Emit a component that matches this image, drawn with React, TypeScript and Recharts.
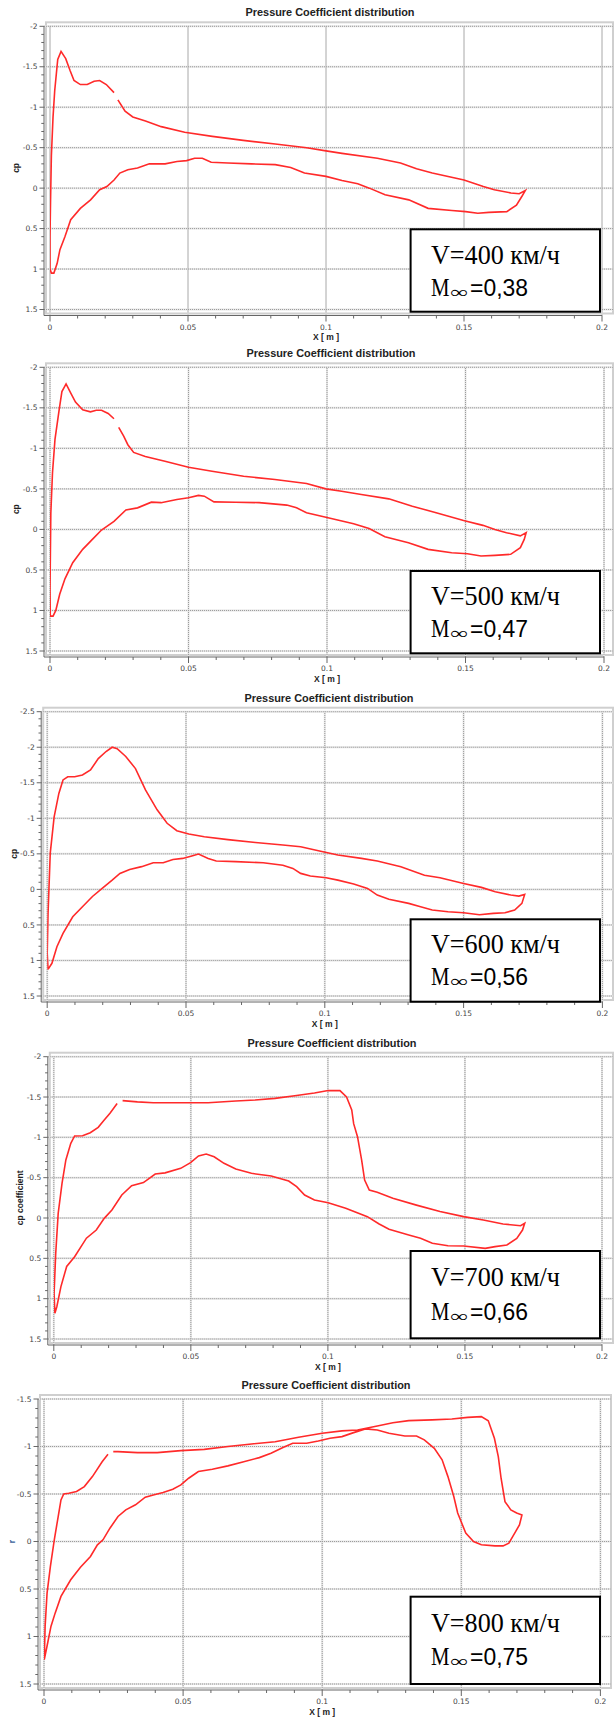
import React from "react";
import { LineChart, Line, XAxis, YAxis, ReferenceLine } from "recharts";

// [x (m), cp] along the contour
const v400: [number, number][] = [
  [0.0232, -1.18], [0.0204, -1.28], [0.018, -1.33], [0.016, -1.32], [0.0135, -1.28], [0.011, -1.28],
  [0.0087, -1.33], [0.0073, -1.45], [0.0057, -1.6], [0.004, -1.69], [0.0028, -1.59], [0.0017, -1.2],
  [0.0011, -0.88], [0.0005, -0.4], [0.0002, 0.15], [0, 0.6], [0, 1.0], [0.0005, 1.05],
  [0.0014, 1.05], [0.0026, 0.93], [0.0036, 0.76], [0.0054, 0.6], [0.0075, 0.39], [0.011, 0.25],
  [0.0147, 0.145], [0.018, 0.02], [0.0206, -0.02], [0.0232, -0.1], [0.0253, -0.186], [0.0282, -0.227],
  [0.0317, -0.248], [0.036, -0.3], [0.0417, -0.3], [0.046, -0.33], [0.0495, -0.34], [0.0524, -0.37],
  [0.0552, -0.37], [0.0584, -0.32], [0.0645, -0.31], [0.073, -0.3], [0.0816, -0.29], [0.0872, -0.256],
  [0.0922, -0.186], [0.1, -0.145], [0.1058, -0.095], [0.1115, -0.054], [0.1157, 0], [0.1214, 0.083],
  [0.13, 0.145], [0.137, 0.25], [0.1456, 0.277], [0.1506, 0.29], [0.155, 0.31], [0.159, 0.3],
  [0.1655, 0.29], [0.169, 0.21], [0.171, 0.1], [0.1722, 0.03],
  [0.17, 0.07], [0.167, 0.06], [0.161, 0.02], [0.157, -0.02], [0.15, -0.1], [0.1385, -0.186],
  [0.1328, -0.24], [0.127, -0.31], [0.1186, -0.37], [0.1058, -0.43], [0.1, -0.46], [0.093, -0.5],
  [0.0816, -0.545], [0.07, -0.59], [0.0588, -0.64], [0.0488, -0.69], [0.0403, -0.76], [0.0346, -0.83],
  [0.03, -0.88], [0.0272, -0.95], [0.0246, -1.09],
];

const v500: [number, number][] = [
  [0.0231, -1.365], [0.021, -1.43], [0.0186, -1.47], [0.0167, -1.47], [0.0146, -1.45], [0.0118, -1.475],
  [0.0092, -1.57], [0.0075, -1.68], [0.0058, -1.795], [0.0043, -1.7], [0.0033, -1.475], [0.0018, -1.11],
  [0.0009, -0.7], [0.0003, -0.2], [0, 0.74], [0.0001, 1.07],
  [0.0011, 1.07], [0.0021, 1.0], [0.0035, 0.8], [0.0054, 0.61], [0.0082, 0.41], [0.0118, 0.246],
  [0.0153, 0.123], [0.0186, 0.008], [0.0231, -0.1], [0.0274, -0.24], [0.0316, -0.266], [0.0366, -0.336],
  [0.0401, -0.33], [0.0458, -0.37], [0.05, -0.39], [0.0536, -0.42], [0.0557, -0.41], [0.0592, -0.34],
  [0.067, -0.336], [0.0755, -0.33], [0.0855, -0.3], [0.089, -0.266], [0.0926, -0.205], [0.0996, -0.15],
  [0.1096, -0.07], [0.1152, -0.01], [0.1209, 0.09], [0.1294, 0.164], [0.1365, 0.246], [0.145, 0.287],
  [0.1507, 0.3], [0.1556, 0.328], [0.1606, 0.32], [0.1663, 0.307], [0.1698, 0.225], [0.1712, 0.123],
  [0.1719, 0.04],
  [0.1698, 0.08], [0.1648, 0.04], [0.1606, 0], [0.1563, -0.05], [0.1493, -0.11], [0.1394, -0.205],
  [0.1308, -0.287], [0.1223, -0.377], [0.1124, -0.43], [0.1053, -0.47], [0.0996, -0.5], [0.0926, -0.566],
  [0.0812, -0.615], [0.0699, -0.656], [0.0585, -0.717], [0.05, -0.766], [0.0415, -0.84], [0.0344, -0.9],
  [0.0302, -0.95], [0.0281, -1.045], [0.0266, -1.15], [0.0248, -1.26],
];

const v600: [number, number][] = [
  [0.0003, 1.125], [0, 0.9], [0.0003, 0.34], [0.0011, -0.51], [0.0025, -1.02], [0.0042, -1.35],
  [0.0057, -1.54], [0.0074, -1.585], [0.0099, -1.585], [0.0127, -1.61], [0.0156, -1.68], [0.0184, -1.84],
  [0.0212, -1.94], [0.0234, -2.0], [0.0252, -1.98], [0.0283, -1.87], [0.0318, -1.7], [0.0354, -1.4],
  [0.0396, -1.12], [0.0432, -0.93], [0.0467, -0.825], [0.051, -0.78], [0.0566, -0.74], [0.0651, -0.7],
  [0.075, -0.66], [0.0849, -0.624], [0.0913, -0.6], [0.0977, -0.544], [0.1047, -0.483], [0.1132, -0.436],
  [0.1189, -0.4], [0.1274, -0.32], [0.1359, -0.2], [0.1415, -0.164], [0.15, -0.084], [0.1564, -0.028],
  [0.1614, 0.033], [0.167, 0.08], [0.1699, 0.094], [0.172, 0.07],
  [0.171, 0.197], [0.1684, 0.29], [0.1649, 0.328], [0.1607, 0.338], [0.1557, 0.356], [0.15, 0.328],
  [0.1444, 0.314], [0.1387, 0.29], [0.1345, 0.244], [0.1302, 0.197], [0.1231, 0.14], [0.1189, 0.08],
  [0.1154, -0.014], [0.1104, -0.075], [0.1047, -0.13], [0.1005, -0.164], [0.0948, -0.188], [0.0913, -0.225],
  [0.0885, -0.295], [0.0849, -0.34], [0.0778, -0.375], [0.0679, -0.39], [0.0609, -0.4], [0.058, -0.436],
  [0.0545, -0.497], [0.0524, -0.474], [0.0488, -0.436], [0.0453, -0.42], [0.0418, -0.375], [0.0382, -0.375],
  [0.034, -0.32], [0.0297, -0.28], [0.0262, -0.225], [0.0234, -0.13], [0.0198, -0.014], [0.0163, 0.1],
  [0.0127, 0.244], [0.0092, 0.385], [0.0057, 0.62], [0.0035, 0.807], [0.0017, 1.04], [0.0003, 1.125],
];

const v700: [number, number][] = [
  [0.0231, -1.42], [0.0205, -1.3], [0.0184, -1.215], [0.0162, -1.124], [0.0133, -1.058], [0.0105, -1.02],
  [0.0076, -1.017], [0.0062, -0.926], [0.0044, -0.72], [0.003, -0.43], [0.0016, -0.058], [0.0007, 0.438],
  [0.0001, 0.934], [0.0004, 1.18],
  [0.0011, 1.1], [0.0026, 0.85], [0.0047, 0.6], [0.0076, 0.48], [0.0119, 0.25], [0.0155, 0.149],
  [0.0184, 0.004], [0.0212, -0.1], [0.0248, -0.285], [0.0284, -0.4], [0.0327, -0.44], [0.037, -0.545],
  [0.0406, -0.56], [0.0463, -0.616], [0.0499, -0.686], [0.0528, -0.77], [0.0556, -0.793], [0.0585, -0.76],
  [0.0621, -0.678], [0.0664, -0.607], [0.0721, -0.554], [0.0793, -0.52], [0.0857, -0.459], [0.0886, -0.388],
  [0.0915, -0.285], [0.0951, -0.223], [0.1001, -0.19], [0.1065, -0.12], [0.1144, -0.017], [0.1187, 0.074],
  [0.1223, 0.14], [0.1295, 0.21], [0.1338, 0.252], [0.1381, 0.314], [0.1438, 0.343], [0.1495, 0.347],
  [0.1574, 0.376], [0.161, 0.355], [0.1653, 0.335], [0.1689, 0.252], [0.171, 0.149], [0.1718, 0.066],
  [0.1703, 0.095], [0.1639, 0.074], [0.1567, 0.025], [0.1495, -0.017], [0.1409, -0.08], [0.1323, -0.16],
  [0.1237, -0.244], [0.118, -0.32], [0.1151, -0.347], [0.1134, -0.47], [0.1123, -0.72], [0.1108, -1.008],
  [0.1094, -1.17], [0.1087, -1.34], [0.1068, -1.5], [0.1044, -1.58], [0.1001, -1.58], [0.0951, -1.55],
  [0.0879, -1.516], [0.0807, -1.483], [0.0735, -1.463], [0.0664, -1.45], [0.0563, -1.43], [0.0449, -1.43],
  [0.0363, -1.43], [0.0305, -1.44], [0.0251, -1.455],
];

const v800: [number, number][] = [
  [0.023, -0.918], [0.0209, -0.84], [0.0174, -0.683], [0.0145, -0.578], [0.0117, -0.526], [0.0089, -0.508],
  [0.0071, -0.5], [0.0061, -0.438], [0.0051, -0.263], [0.0037, -0.018], [0.0023, 0.263], [0.0011, 0.543],
  [0.0004, 0.894], [0.0001, 1.244],
  [0.0011, 1.1], [0.0025, 0.894], [0.004, 0.754], [0.0061, 0.578], [0.0096, 0.403], [0.0131, 0.27],
  [0.0167, 0.158], [0.0192, 0.035], [0.0212, -0.018], [0.0237, -0.14], [0.0266, -0.263], [0.0294, -0.333],
  [0.0329, -0.386], [0.0364, -0.466], [0.0393, -0.49], [0.0428, -0.515], [0.0463, -0.55], [0.0492, -0.596],
  [0.052, -0.666], [0.0555, -0.736], [0.0605, -0.76], [0.0661, -0.796], [0.0718, -0.84], [0.0774, -0.883],
  [0.0816, -0.93], [0.0859, -0.99], [0.0894, -1.034], [0.0944, -1.034], [0.0986, -1.058], [0.1028, -1.087],
  [0.1071, -1.104], [0.1113, -1.146], [0.1155, -1.185], [0.1198, -1.174], [0.124, -1.14], [0.1297, -1.11],
  [0.1339, -1.11], [0.1367, -1.07], [0.1403, -0.98], [0.1431, -0.86], [0.1452, -0.683], [0.1473, -0.473],
  [0.1487, -0.3], [0.1516, -0.088], [0.1544, 0], [0.1572, 0.035], [0.1621, 0.046], [0.165, 0.046],
  [0.1671, 0.018], [0.1692, -0.088], [0.1709, -0.175], [0.1718, -0.28],
  [0.1699, -0.3], [0.1678, -0.333], [0.1657, -0.42], [0.1643, -0.666], [0.1633, -0.894], [0.1619, -1.087],
  [0.1597, -1.27], [0.1572, -1.314], [0.1523, -1.307], [0.1466, -1.29], [0.1395, -1.28], [0.1311, -1.272],
  [0.1254, -1.25], [0.1198, -1.216], [0.1127, -1.174], [0.1071, -1.164], [0.1, -1.14], [0.0915, -1.097],
  [0.0831, -1.05], [0.0746, -1.027], [0.0661, -1.0], [0.0576, -0.97], [0.0492, -0.957], [0.0407, -0.936],
  [0.0336, -0.936], [0.0266, -0.946], [0.0249, -0.946],
];

const speedLabels = ["V=400 км/ч", "V=500 км/ч", "V=600 км/ч", "V=700 км/ч", "V=800 км/ч"];
const machValues = ["=0,38", "=0,47", "=0,56", "=0,66", "=0,75"];
const cpAxisTitles = ["cp", "cp", "cp", "cp coefficient", "r"];
const chartTitle = "Pressure Coefficient distribution";
const xAxisTitle = "X [ m ]";

const xMajor = [0, 0.05, 0.1, 0.15, 0.2];
const xMajorLabels = ["0", "0.05", "0.1", "0.15", "0.2"];
const yMajorA = [-2, -1.5, -1, -0.5, 0, 0.5, 1, 1.5];
const yMajorALabels = ["-2", "-1.5", "-1", "-0.5", "0", "0.5", "1", "1.5"];
const yMajorB = [-2.5, -2, -1.5, -1, -0.5, 0, 0.5, 1, 1.5];
const yMajorBLabels = ["-2.5", "-2", "-1.5", "-1", "-0.5", "0", "0.5", "1", "1.5"];
const yMajorC = [-1.5, -1, -0.5, 0, 0.5, 1, 1.5];
const yMajorCLabels = ["-1.5", "-1", "-0.5", "0", "0.5", "1", "1.5"];

// page positions of each panel (px)
const layouts = [
  { top: 26.3, bottom: 309.5, x0: 50, x1: 602, frameRight: 613, titleX: 330, labelX: 15.7, boxTop: 229.3, boxBottom: 311.7, lineV: 35, lineM: 66.2 },
  { top: 367.3, bottom: 651, x0: 50, x1: 604, frameRight: 613, titleX: 331, labelX: 15.7, boxTop: 571, boxBottom: 653.3, lineV: 34, lineM: 65.5 },
  { top: 711.7, bottom: 996, x0: 47.2, x1: 602.4, frameRight: 613, titleX: 329, labelX: 13.8, boxTop: 919.3, boxBottom: 1001.7, lineV: 34, lineM: 65.2 },
  { top: 1056.7, bottom: 1339, x0: 53.8, x1: 602, frameRight: 613, titleX: 332, labelX: 19.6, boxTop: 1251, boxBottom: 1338.3, lineV: 34.5, lineM: 69 },
  { top: 1399, bottom: 1684, x0: 44, x1: 600.4, frameRight: 611, titleX: 326, labelX: 11.8, boxTop: 1596.7, boxBottom: 1684, lineV: 34.8, lineM: 68.3 },
];

const panels = [
  { points: v400, yMajor: yMajorA, yLabels: yMajorALabels },
  { points: v500, yMajor: yMajorA, yLabels: yMajorALabels },
  { points: v600, yMajor: yMajorB, yLabels: yMajorBLabels },
  { points: v700, yMajor: yMajorA, yLabels: yMajorALabels },
  { points: v800, yMajor: yMajorC, yLabels: yMajorCLabels },
];

const RED = "#ff2a2a";
const AXIS = "#666";
const TICK_FONT = "DejaVu Sans, sans-serif";
const BOLD_FONT = "Liberation Sans, Arial, sans-serif";
const SERIF = "Liberation Serif, Times New Roman, serif";

function steps(a: number, b: number, step: number) {
  const n = Math.round((b - a) / step);
  return Array.from({ length: n + 1 }, (_, i) => +(a + i * step).toFixed(4));
}

function labelFor(v: number, values: number[], labels: string[]) {
  const i = values.findIndex((m) => Math.abs(m - v) < 1e-6);
  return i >= 0 ? labels[i] : null;
}

function Panel({ idx }: { idx: number }) {
  const L = layouts[idx];
  const { points, yMajor, yLabels } = panels[idx];
  const T = Math.floor(L.top - 32);
  const H = Math.ceil(L.bottom + 40) - T;
  const axisX = L.x0 - 6;
  const axisY = L.bottom + 6;
  const data = points.map(([x, cp]) => ({ x, cp }));
  const yDomain = [yMajor[0], yMajor[yMajor.length - 1]];
  const yTicks = steps(yDomain[0], yDomain[1], 0.1);
  const xTicks = steps(0, 0.2, 0.01);
  const midY = (L.top + L.bottom) / 2 - T;

  const renderY = (p: any) => {
    const lab = labelFor(p.payload.value, yMajor, yLabels);
    return (
      <g>
        <line x1={p.x - (lab ? 4.5 : 2.7)} x2={p.x} y1={p.y} y2={p.y} stroke={AXIS} strokeWidth={1} />
        {lab && (
          <text x={p.x - 6.5} y={p.y} dy="0.35em" textAnchor="end" fontFamily={TICK_FONT} fontSize={7.5} fill="#444">
            {lab}
          </text>
        )}
      </g>
    );
  };

  const renderX = (p: any) => {
    const lab = labelFor(p.payload.value, xMajor, xMajorLabels);
    return (
      <g>
        <line x1={p.x} x2={p.x} y1={p.y} y2={p.y + (lab ? 6 : 3)} stroke={AXIS} strokeWidth={1} />
        {lab && (
          <text x={p.x} y={p.y + 11.7} dy="0.35em" textAnchor="middle" fontFamily={TICK_FONT} fontSize={7.5} fill="#444">
            {lab}
          </text>
        )}
      </g>
    );
  };

  const boxY = L.boxTop - T;
  return (
    <div style={{ position: "absolute", left: 0, top: T, width: 616, height: H }}>
      <svg width={616} height={H} style={{ position: "absolute", left: 0, top: 0 }}>
        <rect
          x={L.x0 - 4}
          y={L.top - 4 - T}
          width={L.frameRight - L.x0 + 4}
          height={L.bottom - L.top + 8}
          fill="none"
          stroke="#cfcfcf"
          strokeWidth={2}
        />
      </svg>
      <div style={{ position: "absolute", left: 0, top: 0 }}>
        <LineChart
          width={616}
          height={H}
          data={data}
          margin={{ top: L.top - T, right: 616 - L.frameRight, bottom: 0, left: 0 }}
        >
          <XAxis
            type="number"
            dataKey="x"
            domain={[0, 0.2]}
            ticks={xTicks}
            interval={0}
            padding={{ left: 6, right: L.frameRight - L.x1 }}
            axisLine={false}
            tickLine={false}
            tickSize={0}
            tickMargin={0}
            tick={renderX}
            height={H - (axisY - T)}
            allowDataOverflow
          />
          <YAxis
            type="number"
            domain={yDomain}
            reversed
            ticks={yTicks}
            interval={0}
            padding={{ top: 0, bottom: 6 }}
            axisLine={{ stroke: AXIS }}
            tickLine={false}
            tickSize={0}
            tickMargin={0}
            tick={renderY}
            width={axisX}
            allowDataOverflow
          />
          {xMajor.map((v) => (
            <ReferenceLine key={"xs" + v} x={v} stroke="#e6e6e6" strokeWidth={2} />
          ))}
          {yMajor.map((v) => (
            <ReferenceLine key={"ys" + v} y={v} stroke="#e6e6e6" strokeWidth={2} />
          ))}
          {xMajor.map((v) => (
            <ReferenceLine key={"xd" + v} x={v} stroke="#9c9c9c" strokeDasharray="1 1" />
          ))}
          {yMajor.map((v) => (
            <ReferenceLine key={"yd" + v} y={v} stroke="#9c9c9c" strokeDasharray="1 1" />
          ))}
          <Line
            type="linear"
            dataKey="cp"
            stroke={RED}
            strokeWidth={1.6}
            dot={false}
            activeDot={false}
            isAnimationActive={false}
          />
        </LineChart>
      </div>
      <svg width={616} height={H} style={{ position: "absolute", left: 0, top: 0, pointerEvents: "none" }}>
        <line x1={axisX} x2={L.x1} y1={axisY - T} y2={axisY - T} stroke={AXIS} />
        <text
          x={L.titleX}
          y={L.top - 13.4 - T}
          dy="0.35em"
          textAnchor="middle"
          fontFamily={BOLD_FONT}
          fontWeight="bold"
          fontSize={10}
          textLength={169}
          lengthAdjust="spacingAndGlyphs"
          fill="#222"
        >
          {chartTitle}
        </text>
        <text
          x={(L.x0 + L.x1) / 2}
          y={axisY + 21.7 - T}
          dy="0.35em"
          textAnchor="middle"
          fontFamily={BOLD_FONT}
          fontWeight="bold"
          fontSize={8.5}
          fill="#222"
        >
          {xAxisTitle}
        </text>
        <text
          transform={`translate(${L.labelX}, ${midY}) rotate(-90)`}
          textAnchor="middle"
          dy="0.35em"
          fontFamily={BOLD_FONT}
          fontWeight="bold"
          fontSize={8.5}
          fill={idx === 4 ? "#3a5f9a" : "#222"}
        >
          {cpAxisTitles[idx]}
        </text>
        <rect
          x={410.6}
          y={boxY}
          width={189.4}
          height={L.boxBottom - L.boxTop}
          fill="#fff"
          stroke="#000"
          strokeWidth={2}
        />
        <text
          x={431}
          y={boxY + L.lineV}
          fontFamily={SERIF}
          fontSize={26.5}
          textLength={129}
          lengthAdjust="spacingAndGlyphs"
          fill="#000"
        >
          {speedLabels[idx]}
        </text>
        <text y={boxY + L.lineM} fill="#000">
          <tspan x={431} fontFamily={SERIF} fontSize={24.5} textLength={18.5} lengthAdjust="spacingAndGlyphs">
            M
          </tspan>
          <tspan x={450.5} dy={2} fontFamily={SERIF} fontSize={17} textLength={18} lengthAdjust="spacingAndGlyphs">
            ∞
          </tspan>
          <tspan
            x={470}
            dy={-2}
            fontFamily="Liberation Sans, Arial, sans-serif"
            fontSize={23}
            textLength={58}
            lengthAdjust="spacingAndGlyphs"
          >
            {machValues[idx]}
          </tspan>
        </text>
      </svg>
    </div>
  );
}

export default function App() {
  return (
    <div style={{ position: "absolute", left: 0, top: 0, width: 616, height: 1718, background: "#fff", overflow: "hidden" }}>
      {panels.map((_, i) => (
        <Panel key={i} idx={i} />
      ))}
    </div>
  );
}
